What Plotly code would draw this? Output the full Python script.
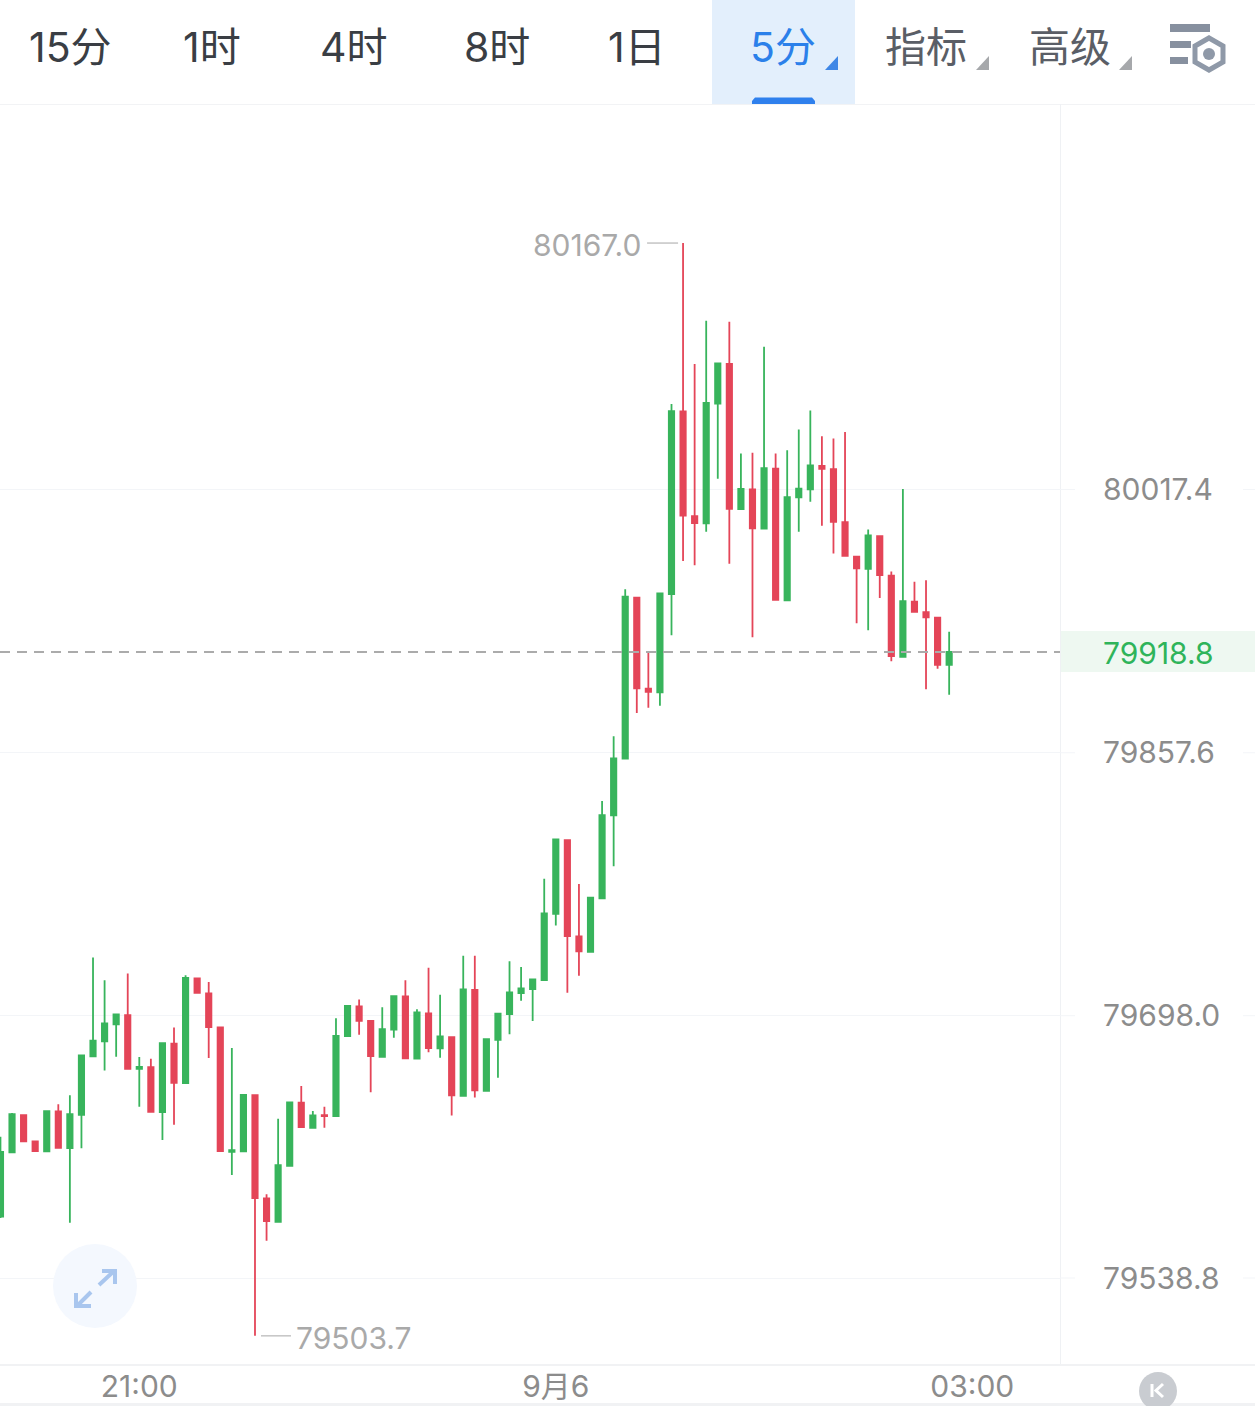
import plotly.graph_objects as go

W, H = 1255, 1406
opens = [79576.0,79615.1,79637.7,79621.7,79615.7,79639.9,79617.7,79637.9,79673.3,79682.4,
79692.7,79698.4,79665.8,79666.8,79639.5,79681.0,79657.1,79720.7,79711.6,79690.9,
79615.4,79615.7,79649.8,79587.1,79572.9,79606.9,79645.2,79630.0,79637.7,79637.1,
79685.6,79703.7,79694.8,79673.1,79689.5,79709.7,79671.9,79699.4,79678.2,79685.0,
79649.4,79713.6,79652.4,79683.4,79699.0,79711.7,79714.2,79719.6,79759.9,79804.6,
79746.2,79736.8,79769.2,79819.6,79854.1,79951.7,79896.5,79894.3,79953.9,80064.8,
80001.3,79996.9,80069.5,80093.6,80005.5,80017.5,79993.6,80030.0,79950.1,80012.6,
80017.5,80031.8,80029.8,79997.6,79976.6,79969.3,79989.1,79965.1,79915.9,79949.3,
79943.0,79939.6,79911.0]
highs = [79624.5,79638.9,79637.7,79622.3,79640.1,79644.2,79649.7,79673.9,79733.4,79719.6,
79698.8,79723.7,79672.9,79671.9,79681.4,79690.9,79722.5,79720.7,79718.4,79690.9,
79678.4,79650.0,79649.8,79589.7,79635.4,79645.4,79655.3,79640.1,79642.7,79696.4,
79704.0,79707.9,79694.8,79703.1,79709.9,79719.5,79701.9,79727.1,79710.7,79685.0,
79734.4,79734.4,79683.8,79699.2,79731.0,79727.5,79720.1,79781.1,79805.0,79804.6,
79777.9,79769.6,79828.3,79867.7,79956.8,79951.7,79918.6,79954.4,80069.3,80167.0,
80093.6,80119.8,80094.0,80119.2,80039.3,80039.7,80104.1,80039.3,80041.3,80053.9,
80065.4,80049.7,80048.4,80052.3,79976.6,79993.2,79989.1,79967.7,80017.7,79961.4,
79962.3,79939.6,79931.1]
lows = [79575.2,79615.1,79621.7,79615.8,79615.7,79617.8,79572.3,79617.5,79673.3,79664.8,
79673.1,79665.8,79642.7,79639.7,79622.5,79631.8,79657.1,79711.3,79672.3,79615.8,
79601.3,79615.7,79503.7,79561.4,79572.9,79606.9,79630.4,79630.0,79630.0,79637.1,
79685.6,79686.4,79651.5,79673.1,79684.6,79672.1,79671.9,79675.9,79672.5,79637.5,
79649.4,79648.4,79652.4,79660.3,79686.7,79707.1,79694.8,79719.6,79752.8,79711.9,
79722.3,79736.8,79769.2,79788.8,79854.1,79881.7,79884.9,79886.1,79928.9,79974.0,
79971.5,79991.8,80023.9,79972.3,80005.5,79927.7,79993.6,79950.5,79950.1,79991.8,
80010.0,79995.4,79978.6,79977.2,79936.2,79931.9,79951.5,79913.1,79915.9,79942.6,
79896.1,79908.6,79892.8]
closes = [79615.4,79638.3,79621.7,79615.8,79640.1,79617.8,79638.3,79673.9,79682.8,79693.4,
79698.8,79665.8,79667.0,79639.7,79681.4,79657.3,79720.9,79711.9,79691.1,79615.8,
79616.4,79650.0,79587.3,79573.4,79607.3,79645.4,79630.4,79637.5,79637.1,79685.8,
79704.0,79694.9,79673.5,79689.9,79709.9,79672.1,79700.0,79678.4,79685.5,79649.7,
79714.0,79652.7,79683.8,79699.2,79712.2,79714.6,79720.1,79760.1,79805.0,79746.3,
79737.1,79769.6,79819.8,79854.2,79952.3,79896.7,79894.6,79954.4,80065.0,80001.5,
79997.0,80069.9,80094.0,80005.7,80017.7,79993.8,80030.4,79950.5,80012.8,80017.9,
80032.1,80030.0,79997.8,79977.2,79969.5,79989.6,79965.5,79916.3,79949.7,79943.2,
79939.8,79911.0,79918.8]
candle_index = list(range(len(opens)))

price_ticks = [80017.4, 79857.6, 79698.0, 79538.8]
price_labels = ["80017.4", "79857.6", "79698.0", "79538.8"]
time_ticks = [12, 48, 84]
time_labels = ["21:00", "9月6", "03:00"]
last_price = 79918.8
max_price, max_index = 80167.0, 59
min_price, min_index = 79503.7, 22

tab_labels = ["15分", "1时", "4时", "8时", "1日", "5分", "指标", "高级"]
tab_centers = [70, 212, 354, 497, 637, 783, 926, 1070]
tab_colors = ["#3a3e44"] * 5 + ["#2b80ea", "#5a5e66", "#5a5e66"]

FONT = "Inter, 'Noto Sans CJK SC'"
NUM_SIZE = 30
GREEN, RED = "#38b45c", "#e44558"
GRID = "#f3f5f8"


def px(x):
    return x / W


def py(y):
    return 1 - y / H


def rect(x0, y0, x1, y1, fill, layer="below"):
    return dict(type="rect", xref="paper", yref="paper", x0=px(x0), x1=px(x1), y0=py(y0), y1=py(y1),
                fillcolor=fill, line_width=0, layer=layer)


def path(points, fill=None, stroke=None, width=0, close=True):
    d = "M" + " L".join(f"{px(a):.5f},{py(b):.5f}" for a, b in points) + (" Z" if close else "")
    return dict(type="path", xref="paper", yref="paper", path=d, fillcolor=fill or "rgba(0,0,0,0)",
                line=dict(color=stroke or "rgba(0,0,0,0)", width=width), layer="above")


def circle(cx, cy, r, fill=None, stroke=None, width=0):
    return dict(type="circle", xref="paper", yref="paper", x0=px(cx - r), x1=px(cx + r), y0=py(cy + r), y1=py(cy - r),
                fillcolor=fill or "rgba(0,0,0,0)", line=dict(color=stroke or "rgba(0,0,0,0)", width=width), layer="above")


fig = go.Figure(go.Candlestick(
    x=candle_index, open=opens, high=highs, low=lows, close=closes,
    increasing=dict(line=dict(color=GREEN, width=1.8), fillcolor=GREEN),
    decreasing=dict(line=dict(color=RED, width=1.8), fillcolor=RED),
    whiskerwidth=0, hoverinfo="skip", showlegend=False,
))

shapes = [
    rect(712, 0, 855, 104, "#e3effc"),
    rect(0, 104, W, 105, "#f2f3f5"),
    rect(1060, 631, W, 672, "#eef8f1"),
    rect(1060, 104, 1061, 1364, "#eff1f4"),
    rect(0, 1364, W, 1366, "#f1f2f4"),
    rect(0, 1403, W, 1406, "#f1f2f4"),
    path([(752, 104), (752, 101), (755, 97.5), (812, 97.5), (815, 101), (815, 104)], fill="#2f80ed"),
    path([(825, 70), (838, 70), (838, 56)], fill="#3f87e6"),
    path([(976, 70), (989, 70), (989, 56)], fill="#a6a8ab"),
    path([(1119, 70), (1132, 70), (1132, 56)], fill="#a6a8ab"),
    rect(1170, 24, 1210, 32, "#87909f", "above"),
    rect(1170, 41, 1191, 48, "#87909f", "above"),
    rect(1170, 57, 1188, 64, "#87909f", "above"),
    path([(1209, 38), (1223, 46), (1223, 62), (1209, 70), (1195, 62), (1195, 46)], stroke="#8f99a8", width=5),
    circle(1209, 54, 6, fill="#8f99a8"),
    circle(95, 1286, 42, fill="#f4f8fe"),
    path([(99, 1285), (114, 1271)], stroke="#a9c6ee", width=4, close=False),
    path([(102, 1271), (115, 1271), (115, 1284)], stroke="#a9c6ee", width=4, close=False),
    path([(91, 1292), (77, 1306)], stroke="#a9c6ee", width=4, close=False),
    path([(76, 1293), (76, 1306), (91, 1306)], stroke="#a9c6ee", width=4, close=False),
    circle(1158, 1391, 19, fill="#c9ccd1"),
    path([(1152, 1384), (1152, 1397)], stroke="white", width=3, close=False),
    path([(1163, 1384), (1156, 1390.5), (1163, 1397)], stroke="white", width=3, close=False),
    dict(type="line", xref="paper", yref="y", x0=0, x1=px(1060), y0=last_price, y1=last_price,
         line=dict(color="#ababab", width=2, dash="10px,7px"), layer="above"),
    dict(type="line", xref="x", yref="y", xsizemode="pixel", xanchor=max_index, x0=-36, x1=-5,
         y0=max_price, y1=max_price, line=dict(color="#c4c4c4", width=1.5)),
    dict(type="line", xref="x", yref="y", xsizemode="pixel", xanchor=min_index, x0=6, x1=36,
         y0=min_price, y1=min_price, line=dict(color="#c4c4c4", width=1.5)),
]
for p in price_ticks:
    for a, b in ((1060, 1075), (1243, W)):
        shapes.append(dict(type="line", xref="paper", yref="y", x0=px(a), x1=px(b), y0=p, y1=p,
                           line=dict(color=GRID, width=1)))

annotations = [
    dict(xref="paper", yref="paper", x=px(c), y=py(47), text=t, showarrow=False, xanchor="center", yanchor="middle",
         font=dict(family=FONT, size=41, color=col))
    for t, c, col in zip(tab_labels, tab_centers, tab_colors)
]
annotations += [
    dict(x=max_index, y=max_price, xref="x", yref="y", text=f"{max_price:.1f}", showarrow=False, xanchor="right",
         yanchor="middle", xshift=-40, yshift=-1.5, font=dict(family=FONT, size=NUM_SIZE, color="#a9a9a9")),
    dict(x=min_index, y=min_price, xref="x", yref="y", text=f"{min_price:.1f}", showarrow=False, xanchor="left",
         yanchor="middle", xshift=39, yshift=-2, font=dict(family=FONT, size=NUM_SIZE, color="#a9a9a9")),
    dict(xref="paper", yref="y", x=px(1158), y=last_price, text=f"{last_price:.1f}", showarrow=False, xanchor="center",
         yanchor="middle", yshift=-1, font=dict(family=FONT, size=NUM_SIZE, color="#2fb45a")),
]

fig.update_layout(
    width=W, height=H, margin=dict(l=0, r=0, t=0, b=0, autoexpand=False), autosize=False,
    paper_bgcolor="white", plot_bgcolor="white", boxgap=0.34,
    hovermode=False, showlegend=False, shapes=shapes, annotations=annotations,
    xaxis=dict(domain=[0, 1060 / W], range=[-0.04, 91.58], rangeslider=dict(visible=False), showgrid=False,
               automargin=False, zeroline=False, showline=False, tickmode="array", tickvals=time_ticks,
               ticktext=time_labels, ticks="", ticklabelstandoff=2, tickangle=0,
               tickfont=dict(family=FONT, size=NUM_SIZE, color="#8c8c8c")),
    yaxis=dict(domain=[1 - 1364 / H, 1 - 104 / H], range=[79486.6, 80251.4], side="right", showgrid=True,
               automargin=False, gridcolor=GRID, gridwidth=1, zeroline=False, showline=False, tickmode="array",
               tickvals=price_ticks, ticktext=price_labels, ticks="outside", ticklen=36,
               tickcolor="rgba(0,0,0,0)", tickfont=dict(family=FONT, size=NUM_SIZE, color="#8c8c8c")),
)

fig.write_html("out.html", config=dict(displayModeBar=False),
               post_script="document.body.style.margin='0';document.documentElement.style.overflow='hidden';")
